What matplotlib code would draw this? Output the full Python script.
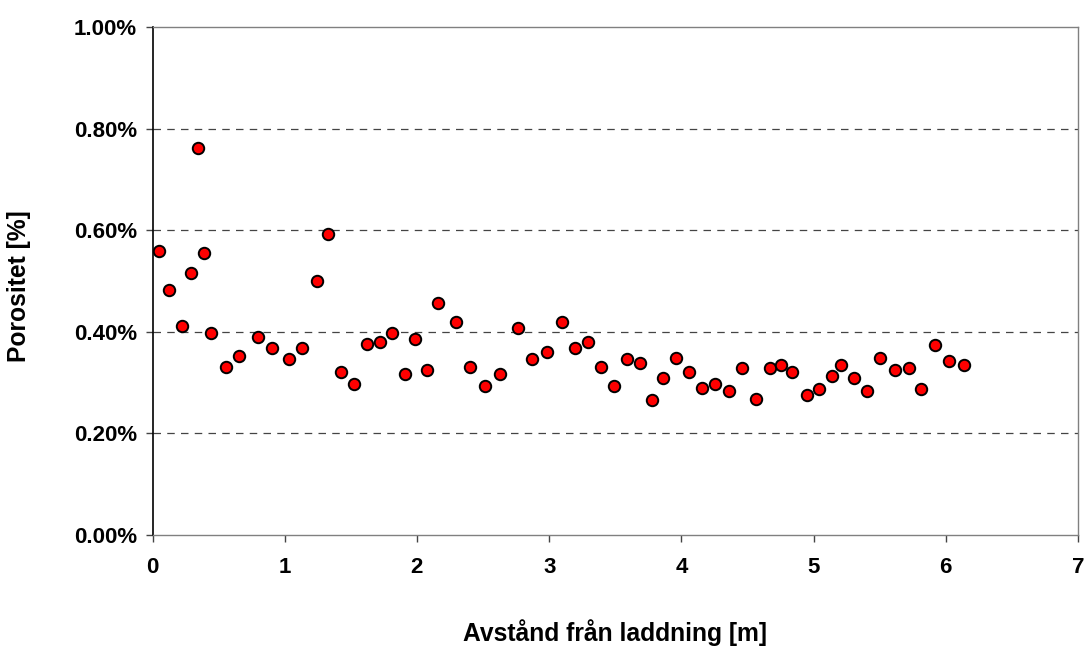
import matplotlib
matplotlib.use("Agg")
import matplotlib.pyplot as plt
from matplotlib.ticker import FuncFormatter, MultipleLocator

# Distance from charge [m]
distance = [0.049, 0.122, 0.220, 0.289, 0.346, 0.392, 0.445, 0.558, 0.656, 0.800,
            0.901, 1.029, 1.128, 1.241, 1.324, 1.422, 1.525, 1.621, 1.722, 1.808,
            1.906, 1.989, 2.077, 2.160, 2.299, 2.402, 2.516, 2.627, 2.768, 2.868,
            2.982, 3.095, 3.193, 3.294, 3.392, 3.491, 3.592, 3.690, 3.775, 3.861,
            3.959, 4.058, 4.159, 4.257, 4.358, 4.456, 4.567, 4.667, 4.753, 4.839,
            4.952, 5.038, 5.136, 5.209, 5.305, 5.406, 5.506, 5.617, 5.718, 5.816,
            5.917, 6.028, 6.141]
# Porosity [%]
porosity = [0.559, 0.482, 0.412, 0.515, 0.762, 0.556, 0.398, 0.331, 0.353, 0.389,
            0.368, 0.346, 0.368, 0.500, 0.593, 0.320, 0.298, 0.376, 0.379, 0.398,
            0.316, 0.386, 0.324, 0.456, 0.419, 0.331, 0.294, 0.316, 0.408, 0.346,
            0.361, 0.419, 0.368, 0.380, 0.331, 0.294, 0.346, 0.339, 0.265, 0.309,
            0.349, 0.320, 0.290, 0.298, 0.283, 0.328, 0.268, 0.328, 0.335, 0.320,
            0.276, 0.287, 0.313, 0.335, 0.309, 0.283, 0.349, 0.324, 0.328, 0.287,
            0.375, 0.342, 0.335]

x_label = "Avstånd från laddning [m]"
y_label = "Porositet [%]"

plt.rcParams['font.family'] = ['Liberation Sans', 'DejaVu Sans']

fig = plt.figure(figsize=(10.88, 6.46), dpi=100)
ax = fig.add_axes([152.5 / 1088, 1 - 535 / 646, (1078 - 152.5) / 1088, (535 - 27) / 646])

ax.scatter(distance, porosity, s=68, c='#ff0000', edgecolors='black',
           linewidths=1.4, zorder=3, clip_on=False)

ax.set_xlim(0, 7)
ax.set_ylim(0, 1.0)
ax.xaxis.set_major_locator(MultipleLocator(1))
ax.yaxis.set_major_locator(MultipleLocator(0.2))
ax.yaxis.set_major_formatter(FuncFormatter(lambda v, p: f"{v:.2f}%"))

for yv in [0.2, 0.4, 0.6, 0.8]:
    ax.axhline(yv, color='#444444', lw=0.9, ls=(0, (6, 5)), zorder=1)

for side in ['top', 'right', 'bottom']:
    ax.spines[side].set_color('#808080')
    ax.spines[side].set_linewidth(1.0)
ax.spines['left'].set_color('black')
ax.spines['left'].set_linewidth(1.2)

ax.tick_params(axis='both', direction='out', length=5, width=1, color='#444444',
               labelsize=16)
ax.tick_params(axis='x', pad=11)
ax.tick_params(axis='y', pad=6)
for lab in ax.get_xticklabels() + ax.get_yticklabels():
    lab.set_fontweight('bold')

ax.set_xlabel(x_label, fontsize=17.7, fontweight='bold')
ax.set_ylabel(y_label, fontsize=17.7, fontweight='bold')
ax.xaxis.set_label_coords(0.5, -0.165)
ax.yaxis.set_label_coords(-0.131, 0.49)

fig.savefig("out.png", dpi=100, facecolor='white')
